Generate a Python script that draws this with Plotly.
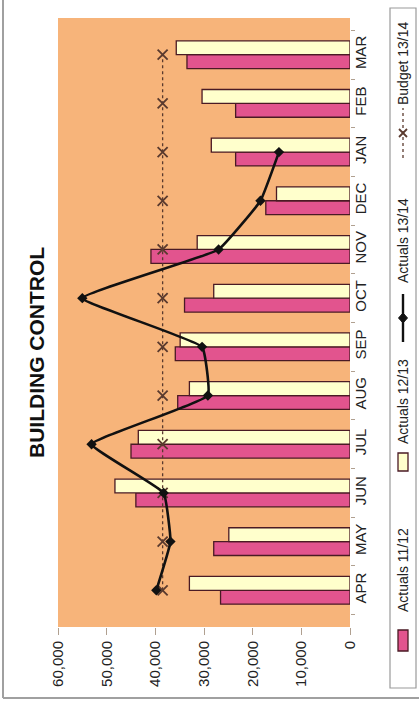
import plotly.graph_objects as go

# Monthly building control figures
months = ["APR", "MAY", "JUN", "JUL", "AUG", "SEP", "OCT", "NOV", "DEC", "JAN", "FEB", "MAR"]
actuals_11_12 = [26600, 28000, 44000, 45000, 35400, 35900, 34000, 40900, 17300, 23500, 23500, 33500]
actuals_12_13 = [33000, 24900, 48300, 43500, 33000, 34900, 28000, 31400, 15100, 28500, 30400, 35700]
actuals_13_14 = [39800, 36900, 38300, 53100, 29200, 30400, 55000, 27000, 18400, 14600]
budget_13_14 = [38500] * 12
value_ticks = [0, 10000, 20000, 30000, 40000, 50000, 60000]

PINK = "#E2548E"
CREAM = "#FFFFCC"
OUTLINE = "#4A1A24"
ORANGE = "#F7B47A"
BUDGET_COL = "#5A3A2E"
FONT = "Liberation Sans, Arial, sans-serif"

W, H = 419, 703
L, R, T, B = 58, 350, 18, 627  # plot area in pixels


def px(x):
    return (x - L) / (R - L)


def py(y):
    return (B - y) / (B - T)


def path(points, close=False):
    d = "M " + " L ".join(f"{px(x):.5f},{py(y):.5f}" for x, y in points)
    return d + (" Z" if close else "")


fig = go.Figure()
fig.add_trace(go.Bar(y=months, x=actuals_11_12, orientation="h", name="Actuals 11/12",
                     marker=dict(color=PINK, line=dict(color=OUTLINE, width=1.3))))
fig.add_trace(go.Bar(y=months, x=actuals_12_13, orientation="h", name="Actuals 12/13",
                     marker=dict(color=CREAM, line=dict(color=OUTLINE, width=1.3))))
fig.add_trace(go.Scatter(y=months, x=budget_13_14, mode="lines+markers", name="Budget 13/14",
                         line=dict(color=BUDGET_COL, width=1.3, dash="dot"),
                         marker=dict(symbol="x-thin", size=10, line=dict(color=BUDGET_COL, width=1.8))))
fig.add_trace(go.Scatter(y=months[:len(actuals_13_14)], x=actuals_13_14, mode="lines+markers",
                         name="Actuals 13/14",
                         line=dict(color="#111111", width=2.6, shape="spline", smoothing=0.3),
                         marker=dict(symbol="diamond", size=8, color="#111111")))

shapes = []
annotations = []

# Title
annotations.append(dict(text="<b>BUILDING CONTROL</b>", xref="paper", yref="paper",
                        x=px(36), y=py(353), xanchor="center", yanchor="middle",
                        textangle=-90, showarrow=False,
                        font=dict(size=21, color="#111111", family=FONT)))

# Legend box with rotated entries
shapes.append(dict(type="rect", xref="paper", yref="paper", x0=px(390), x1=px(416),
                   y0=py(688), y1=py(8), line=dict(color="#9A9A9A", width=1.2),
                   fillcolor="white", layer="below"))
lx = 403
# Actuals 11/12 swatch
shapes.append(dict(type="rect", xref="paper", yref="paper", x0=px(398), x1=px(408),
                   y0=py(651), y1=py(630), fillcolor=PINK, line=dict(color=OUTLINE, width=1.3)))
# Actuals 12/13 swatch
shapes.append(dict(type="rect", xref="paper", yref="paper", x0=px(398), x1=px(408),
                   y0=py(471), y1=py(453), fillcolor=CREAM, line=dict(color=OUTLINE, width=1.3)))
# Actuals 13/14 line symbol with diamond
shapes.append(dict(type="line", xref="paper", yref="paper", x0=px(lx), x1=px(lx),
                   y0=py(342), y1=py(294), line=dict(color="#111111", width=2.4)))
shapes.append(dict(type="path", xref="paper", yref="paper",
                   path=path([(lx, 313), (lx + 4.5, 318), (lx, 323), (lx - 4.5, 318)], close=True),
                   fillcolor="#111111", line=dict(color="#111111", width=1)))
# Budget 13/14 line symbol with cross
shapes.append(dict(type="line", xref="paper", yref="paper", x0=px(lx), x1=px(lx),
                   y0=py(158), y1=py(108), line=dict(color=BUDGET_COL, width=1.3, dash="dot")))
shapes.append(dict(type="path", xref="paper", yref="paper",
                   path=path([(lx - 4, 129), (lx + 4, 137)]),
                   line=dict(color=BUDGET_COL, width=1.8)))
shapes.append(dict(type="path", xref="paper", yref="paper",
                   path=path([(lx - 4, 137), (lx + 4, 129)]),
                   line=dict(color=BUDGET_COL, width=1.8)))

for label, yc in [("Actuals 11/12", 570), ("Actuals 12/13", 402),
                  ("Actuals 13/14", 241), ("Budget 13/14", 63)]:
    annotations.append(dict(text=label, xref="paper", yref="paper", x=px(lx), y=py(yc),
                            xanchor="center", yanchor="middle",
                            textangle=-90, showarrow=False,
                            font=dict(size=14, color="#222222", family=FONT)))

# Page frame edges
shapes.append(dict(type="line", xref="paper", yref="paper", x0=px(3), x1=px(3),
                   y0=py(698), y1=py(0), line=dict(color="#A0A0A0", width=2)))
shapes.append(dict(type="line", xref="paper", yref="paper", x0=px(3), x1=px(419),
                   y0=py(698), y1=py(698), line=dict(color="#A0A0A0", width=2)))

fig.update_layout(
    width=W, height=H,
    margin=dict(l=L, r=W - R, t=T, b=H - B),
    paper_bgcolor="white",
    plot_bgcolor=ORANGE,
    barmode="group", bargap=0.43, bargroupgap=0.0,
    showlegend=False,
    font=dict(family=FONT, size=15, color="#222222"),
    xaxis=dict(range=[60000, 0], tickvals=value_ticks, tickformat=",", tickangle=-90,
               showgrid=False, zeroline=False, ticks="outside", ticklen=7,
               tickcolor="#B0A090", showline=False,
               tickfont=dict(size=15, color="#222222")),
    yaxis=dict(side="right", tickangle=-90, showgrid=False, zeroline=False,
               ticks="outside", ticklen=4, tickcolor="#B0A090", tickson="boundaries",
               categoryorder="array", categoryarray=months,
               tickfont=dict(size=15, color="#222222")),
    shapes=shapes,
    annotations=annotations,
)

fig.write_html("out.html")
